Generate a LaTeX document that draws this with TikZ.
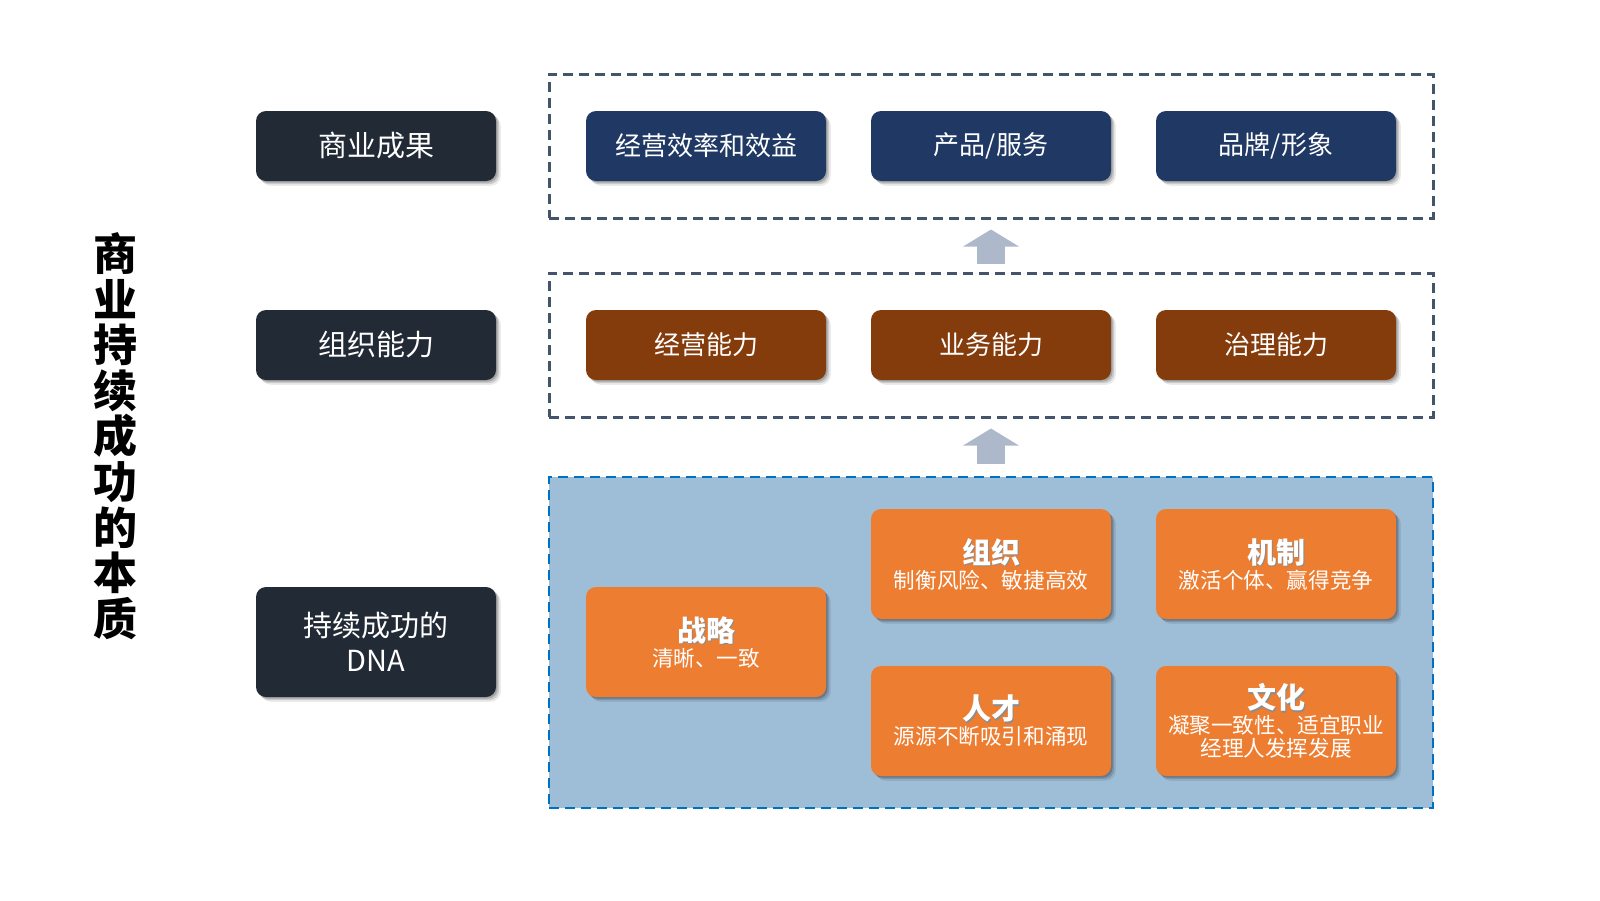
\documentclass[tikz,border=0pt]{standalone}
\usepackage{fontspec}
\setmainfont{Noto Sans CJK SC}
\usetikzlibrary{arrows.meta,shadows}
\definecolor{darkbox}{HTML}{222A35}
\definecolor{navybox}{HTML}{1F3864}
\definecolor{brownbox}{HTML}{843C0C}
\definecolor{orangebox}{HTML}{ED7D31}
\definecolor{bluefill}{HTML}{9EBDD7}
\definecolor{grayline}{HTML}{44546A}
\definecolor{blueline}{HTML}{0070C0}
\definecolor{arrowcol}{HTML}{ADB9CA}
\newcommand{\shtxt}[1]{\makebox[0pt][l]{\hspace{0.7pt}\raisebox{-0.7pt}{\textcolor{black!45}{#1}}}#1}
\tikzset{
  softshadow/.style={
    general shadow={shadow xshift=0.8pt, shadow yshift=-0.8pt, opacity=0.18, fill=black},
    general shadow={shadow xshift=1.6pt, shadow yshift=-1.6pt, opacity=0.14, fill=black},
    general shadow={shadow xshift=2.4pt, shadow yshift=-2.4pt, opacity=0.08, fill=black}},
  box/.style={rounded corners=5pt, minimum width=120pt, inner sep=0pt, text=white, align=center, softshadow},
  leftbox/.style={box, fill=darkbox, minimum height=35pt, font=\fontsize{14.5}{17.5}\selectfont},
  navy/.style={box, fill=navybox, minimum height=35pt, font=\fontsize{13}{16}\selectfont},
  brown/.style={box, fill=brownbox, minimum height=35pt, font=\fontsize{13}{16}\selectfont},
  orange/.style={box, fill=orangebox, minimum height=55pt, font=\fontsize{10.8}{11.5}\selectfont},
  graybox/.style={draw=grayline, line width=1.5pt, dash pattern=on 5pt off 3pt,
    minimum width=442pt, minimum height=72pt, inner sep=0pt},
  bluebox/.style={draw=blueline, fill=bluefill, line width=1.3pt, dash pattern=on 5pt off 3pt,
    minimum width=442pt, minimum height=165.5pt, inner sep=0pt},
  bigarrow/.style={draw=arrowcol, line width=14pt, -{Triangle[width=27.5pt,length=8.5pt]}},
  otitle/.style={}
}
\begin{document}
\begin{tikzpicture}[x=0.5pt,y=-0.5pt]
\useasboundingbox (0,0) rectangle (1600,900);
% containers
\node[graybox] (topc) at (991,146) {};
\node[graybox] (midc) at (991,345) {};
\node[bluebox] (botc) at (991,642.5) {};
% block arrows
\draw[bigarrow, shorten <=4pt, shorten >=5pt] (midc.north) -- (topc.south);
\draw[bigarrow, shorten <=6pt, shorten >=5pt] (botc.north) -- (midc.south);
% title
\node[font=\fontsize{22}{22.8}\selectfont\bfseries, align=center] (title) at (115,436)
  {商\\业\\持\\续\\成\\功\\的\\本\\质};
% left column
\node[leftbox] (l1) at (376,146) {商业成果};
\node[leftbox] (l2) at (376,345) {组织能力};
\node[leftbox, minimum height=55pt] (l3) at (376,642) {持续成功的\\DNA};
% top row
\node[navy] (t1) at (706,146) {经营效率和效益};
\node[navy] (t2) at (991,146) {产品/服务};
\node[navy] (t3) at (1276,146) {品牌/形象};
% middle row
\node[brown] (m1) at (706,345) {经营能力};
\node[brown] (m2) at (991,345) {业务能力};
\node[brown] (m3) at (1276,345) {治理能力};
% DNA boxes
\node[orange] (b1) at (706,642) {{\fontsize{14.5}{17}\selectfont\bfseries\shtxt{战略}}\\[1pt]清晰、一致};
\node[orange] (b2) at (991,564) {{\fontsize{14.5}{17}\selectfont\bfseries\shtxt{组织}}\\[1pt]制衡风险、敏捷高效};
\node[orange] (b3) at (1276,564) {{\fontsize{14.5}{17}\selectfont\bfseries\shtxt{机制}}\\[1pt]激活个体、赢得竞争};
\node[orange] (b4) at (991,721) {{\fontsize{14.5}{17}\selectfont\bfseries\shtxt{人才}}\\[1pt]源源不断吸引和涌现};
\node[orange] (b5) at (1276,721) {{\fontsize{14.5}{17}\selectfont\bfseries\shtxt{文化}}\\[1pt]凝聚一致性、适宜职业\\经理人发挥发展};
\end{tikzpicture}
\end{document}
